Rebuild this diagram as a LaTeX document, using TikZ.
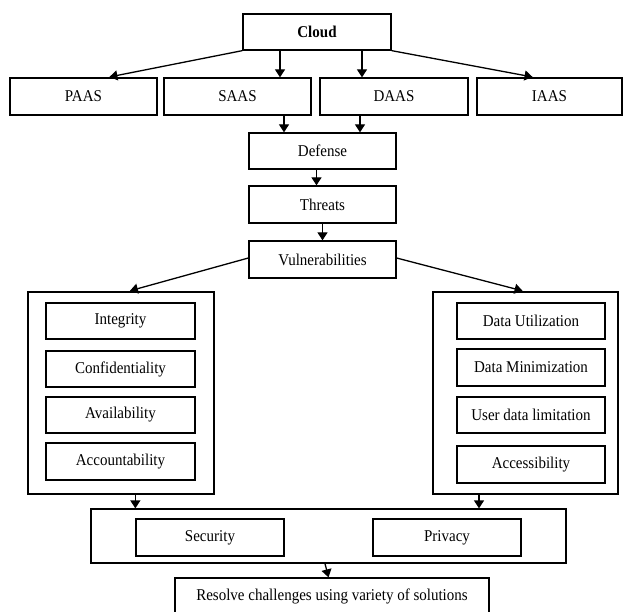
\documentclass[tikz,border=0pt]{standalone}
\usepackage{fontspec}
\setmainfont{Liberation Serif}
\usetikzlibrary{arrows.meta}
\newcommand{\tx}[1]{\scalebox{0.91}[1]{#1}}
\begin{document}
\begin{tikzpicture}[x=1pt,y=-1pt,
  box/.style={draw,line width=1.3pt,inner sep=0pt,font=\fontsize{16.5}{18}\selectfont,
    minimum width=148pt,minimum height=36pt},
  grp/.style={draw,line width=1.3pt,inner sep=0pt},
  arr/.style={line width=1.3pt,-{Triangle[length=8pt,width=10pt]}}]
\useasboundingbox (0,0) rectangle (623,612);
% top
\node[box] (cloud) at (317,32) {\tx{\textbf{Cloud}}};
\node[box,minimum width=147pt,minimum height=37pt] (paas) at (83.5,96.5) {\tx{PAAS}};
\node[box,minimum width=147pt,minimum height=37pt] (saas) at (237.5,96.5) {\tx{SAAS}};
\node[box,minimum height=37pt] (daas) at (394,96.5) {\tx{DAAS}};
\node[box,minimum width=145pt,minimum height=37pt] (iaas) at (549.5,96.5) {\tx{IAAS}};
\node[box,minimum width=147pt] (defense) at (322.5,151) {\tx{Defense}};
\node[box,minimum width=147pt,minimum height=37pt] (threats) at (322.5,204.5) {\tx{Threats}};
\node[box,minimum width=147pt,minimum height=37pt] (vuln) at (322.5,259.5) {\tx{Vulnerabilities}};
% left group
\node[grp,minimum width=186pt,minimum height=202pt] (leftgrp) at (121,393) {};
\node[box,minimum width=149pt] (integrity) at (120.5,321) {\tx{Integrity}};
\node[box,minimum width=149pt] (confid) at (120.5,369) {\tx{Confidentiality}};
\node[box,minimum width=149pt] (avail) at (120.5,415) {\tx{Availability}};
\node[box,minimum width=149pt,minimum height=37pt] (account) at (120.5,461.5) {\tx{Accountability}};
% right group
\node[grp,minimum width=185pt,minimum height=202pt] (rightgrp) at (525.5,393) {};
\node[box] (datautil) at (531,321) {\tx{Data Utilization}};
\node[box,minimum height=37pt] (datamin) at (531,367.5) {\tx{Data Minimization}};
\node[box] (userdata) at (531,415) {\tx{User data limitation}};
\node[box,minimum height=37pt] (access) at (531,464.5) {\tx{Accessibility}};
% bottom
\node[grp,minimum width=475pt,minimum height=54pt] (secpriv) at (328.5,536) {};
\node[box,minimum height=37pt] (security) at (210,537.5) {\tx{Security}};
\node[box,minimum height=37pt] (privacy) at (447,537.5) {\tx{Privacy}};
\node[box,minimum width=314pt] (resolve) at (332,596) {\tx{Resolve challenges using variety of solutions}};
% arrows
\draw[arr,shorten >=2pt] (cloud.south west) -- ([xshift=24pt]paas.north);
\draw[arr] ([xshift=-37pt]cloud.south) -- ([xshift=-37pt]cloud.south |- saas.north);
\draw[arr] ([xshift=45pt]cloud.south) -- ([xshift=45pt]cloud.south |- daas.north);
\draw[arr,shorten >=2pt] (cloud.south east) -- ([xshift=-15pt]iaas.north);
\draw[arr] ([xshift=-38.5pt]defense.north |- saas.south) -- ([xshift=-38.5pt]defense.north);
\draw[arr] ([xshift=37.5pt]defense.north |- daas.south) -- ([xshift=37.5pt]defense.north);
\draw[arr] ([xshift=-6pt]defense.south) -- ([xshift=-6pt]threats.north);
\draw[arr] (threats.south) -- (vuln.north);
\draw[arr,shorten >=2pt] ([yshift=1.5pt]vuln.west) -- ([xshift=7pt]leftgrp.north);
\draw[arr,shorten >=2pt] ([yshift=1.5pt]vuln.east) -- ([xshift=-1pt]rightgrp.north);
\draw[arr] (leftgrp.south -| security.west) -- (secpriv.north -| security.west);
\draw[arr] ([xshift=-46.5pt]rightgrp.south) -- ([xshift=-46.5pt]rightgrp.south |- secpriv.north);
\draw[arr] ([xshift=-3.5pt]secpriv.south) -- ([xshift=-3.5pt]resolve.north);
\end{tikzpicture}
\end{document}
